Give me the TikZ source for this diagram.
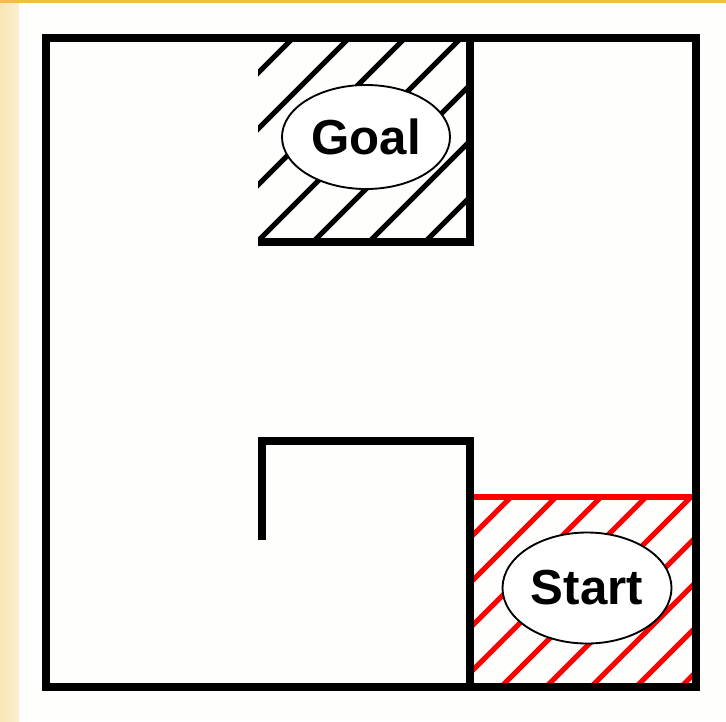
\documentclass[tikz,border=0pt]{standalone}
\usepackage{fontspec}
\setmainfont{Liberation Sans}
\usetikzlibrary{shapes.geometric}
\definecolor{pagebg}{HTML}{FEFEFD}
\definecolor{sideleft}{HTML}{F9E6B6}
\definecolor{sideright}{HTML}{FCF0CF}
\definecolor{topbar}{HTML}{F5BC48}
\definecolor{hatchred}{HTML}{FF0000}

\begin{document}
\begin{tikzpicture}[
      x=0.03cm, y=-0.03cm,
      wall/.style={line width=6pt, line join=miter},
      hatch/.style={line width=4.4pt},
      region/.style={ellipse, draw, line width=1.6pt, fill=white, inner sep=0pt,
        font=\fontsize{42}{42}\bfseries}
    ]
      % page
      \fill[pagebg] (0,0) rectangle (726,721);
      \shade[left color=sideleft, right color=sideright] (0,0) rectangle (19,721);
      \fill[topbar] (0,0) rectangle (726,3);
      \useasboundingbox (0,0) rectangle (726,721);

      % goal area, black hatching
      \begin{scope}
        \clip (258,38) rectangle (470,242);
        \foreach \c in {331,387,...,723}
          \draw[hatch] (0,\c) -- (\c,0);
      \end{scope}
      \draw[wall] (258,242) -- (470,242) -- (470,38);

      % start area, red hatching
      \begin{scope}
        \clip (470,497) rectangle (696,687);
        \foreach \c in {1008,1053,...,1400}
          \draw[hatch, hatchred] (0,\c) -- (\c,0);
      \end{scope}
      \draw[hatchred, line width=4.6pt] (470,497) -- (696,497);

      % walls
      \draw[wall] (46,38) rectangle (696,687);
      \draw[wall] (262,540) -- (262,441) -- (470,441) -- (470,687);

      \node[region, minimum width=5.04cm, minimum height=3.12cm] (goal) at (366,137) {Goal};
      \node[region, minimum width=5.07cm, minimum height=3.33cm] (start) at (587,588) {Start};
    \end{tikzpicture}
\end{document}
